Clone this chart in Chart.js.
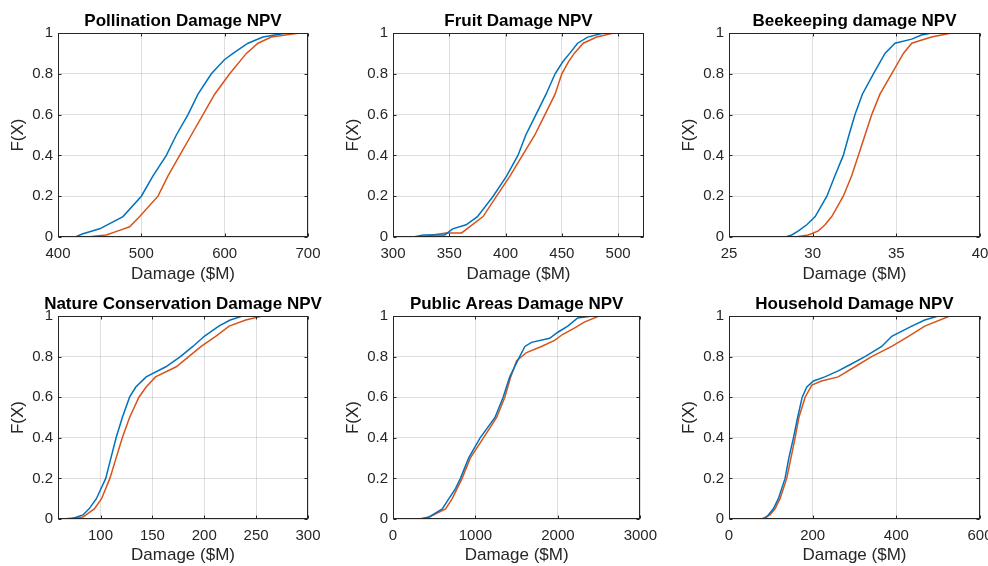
<!DOCTYPE html>
<html>
<head>
<meta charset="utf-8">
<script src="https://cdn.jsdelivr.net/npm/chart.js@4.4.1/dist/chart.umd.min.js"></script>
<style>
  body { margin: 0; width: 988px; height: 566px; overflow: hidden; background: #fff; position: relative; }
  canvas { position: absolute; }
</style>
</head>
<body>
<canvas id="c1"></canvas>
<canvas id="c2"></canvas>
<canvas id="c3"></canvas>
<canvas id="c4"></canvas>
<canvas id="c5"></canvas>
<canvas id="c6"></canvas>
<script>
// Chart data ----- START
const titles = [
    'Pollination Damage NPV', 'Fruit Damage NPV', 'Beekeeping damage NPV',
    'Nature Conservation Damage NPV', 'Public Areas Damage NPV', 'Household Damage NPV'
];
const yTicks = [0, 0.2, 0.4, 0.6, 0.8, 1];

// x axis range + tick labels of every subplot
const pollinationTicks = [400, 500, 600, 700];
const fruitTicks = [300, 350, 400, 450, 500];
const beekeepingTicks = [25, 30, 35, 40];
const natureTicks = [100, 150, 200, 250, 300];
const publicTicks = [0, 1000, 2000, 3000];
const householdTicks = [0, 200, 400, 600];
const xRanges = [[400, 700], [300, 523], [25, 40], [59, 300], [0, 3000], [0, 600]];

// [damage, F(X)] (blue / orange)
const pollinationBlue = [[406,0],[422,0.003],[430,0.016],[450,0.04],[478,0.1],[500,0.2],[514,0.3],[530,0.4],[542,0.5],[556,0.6],[568,0.7],[584,0.8],[600,0.87],[610,0.9],[628,0.95],[646,0.98],[674,1]];
const pollinationOrange = [[416,0],[440,0.003],[458,0.01],[472,0.03],[486,0.05],[498,0.1],[520,0.2],[532,0.3],[546,0.4],[560,0.5],[574,0.6],[588,0.7],[606,0.8],[626,0.9],[640,0.95],[656,0.98],[690,1],[700,1]];

const fruitBlue = [[318,0],[327,0.01],[346,0.01],[353,0.04],[365,0.06],[375,0.1],[389,0.2],[401,0.3],[411,0.4],[418,0.5],[427,0.6],[436,0.7],[444,0.8],[451,0.86],[457,0.9],[464,0.95],[473,0.98],[487,1]];
const fruitOrange = [[325,0],[335,0.01],[347,0.02],[361,0.02],[368,0.05],[380,0.1],[392,0.2],[404,0.3],[415,0.4],[426,0.5],[435,0.6],[444,0.7],[450,0.8],[456,0.86],[461,0.9],[469,0.95],[481,0.98],[496,1],[523,1]];

const beekeepingBlue = [[26.35,0],[28.45,0.003],[28.75,0.01],[29.15,0.03],[29.65,0.06],[30.15,0.1],[30.85,0.2],[31.33,0.3],[31.83,0.4],[32.17,0.5],[32.53,0.6],[32.97,0.7],[33.63,0.8],[34.32,0.9],[34.92,0.95],[35.92,0.97],[36.5,0.99],[37.1,1]];
const beekeepingOrange = [[28.94,0],[29.74,0.01],[30.34,0.03],[30.74,0.06],[31.14,0.1],[31.83,0.2],[32.33,0.3],[32.73,0.4],[33.13,0.5],[33.53,0.6],[34.02,0.7],[34.72,0.8],[35.42,0.9],[35.92,0.95],[37.1,0.98],[38.3,1]];

const natureBlue = [[59,0],[73,0.003],[83,0.02],[89,0.05],[96,0.1],[105,0.2],[110,0.3],[115,0.4],[121,0.5],[128,0.6],[134,0.65],[144,0.7],[163,0.75],[177,0.8],[189,0.85],[200,0.9],[214,0.95],[225,0.98],[237,1]];
const natureOrange = [[64,0],[83,0.01],[86,0.02],[94,0.05],[101,0.1],[109,0.2],[115,0.3],[121,0.4],[128,0.5],[137,0.6],[144,0.65],[153,0.7],[173,0.75],[185,0.8],[197,0.85],[211,0.9],[224,0.95],[240,0.98],[256,1],[281,1]];

const publicBlue = [[319,0],[439,0.01],[519,0.03],[598,0.05],[678,0.1],[758,0.15],[818,0.2],[917,0.3],[1057,0.4],[1237,0.5],[1336,0.6],[1416,0.7],[1536,0.8],[1600,0.85],[1680,0.87],[1900,0.89],[2000,0.92],[2120,0.95],[2240,0.99],[2420,1]];
const publicOrange = [[359,0],[439,0.01],[638,0.05],[718,0.1],[838,0.2],[937,0.3],[1097,0.4],[1257,0.5],[1356,0.6],[1428,0.7],[1500,0.78],[1620,0.82],[1800,0.85],[1960,0.88],[2060,0.91],[2200,0.94],[2320,0.97],[2500,1]];

const householdBlue = [[70,0],[86,0],[94,0.02],[106,0.05],[118,0.1],[134,0.2],[143,0.3],[154,0.4],[164,0.5],[175,0.6],[186,0.65],[202,0.68],[229,0.7],[261,0.73],[289,0.76],[325,0.8],[365,0.85],[389,0.9],[437,0.95],[468,0.98],[500,1]];
const householdOrange = [[78,0],[98,0.02],[110,0.05],[122,0.1],[138,0.2],[148,0.3],[158,0.4],[167,0.5],[182,0.6],[198,0.66],[221,0.68],[261,0.7],[301,0.75],[341,0.8],[389,0.85],[429,0.9],[468,0.95],[528,1]];
// Chart data ----- END

const xTicksList = [pollinationTicks, fruitTicks, beekeepingTicks, natureTicks, publicTicks, householdTicks];
const blueList = [pollinationBlue, fruitBlue, beekeepingBlue, natureBlue, publicBlue, householdBlue];
const orangeList = [pollinationOrange, fruitOrange, beekeepingOrange, natureOrange, publicOrange, householdOrange];

const FONT = '"Liberation Sans", Arial, Helvetica, sans-serif';
const TEXT = '#262626';

// MATLAB style box with inward ticks + title centred over the plot area
const matlabAxes = {
    id: 'matlabAxes',
    afterDraw(chart, args, opts) {
        const ctx = chart.ctx;
        const a = chart.chartArea;
        const x = chart.scales.x, y = chart.scales.y;
        const L = Math.round(a.left) + 0.5, R = Math.round(a.right) - 0.5;
        const T = Math.round(a.top) + 0.5, B = Math.round(a.bottom) - 0.5;
        ctx.save();
        ctx.strokeStyle = TEXT;
        ctx.lineWidth = 1;
        ctx.strokeRect(L, T, R - L, B - T);
        ctx.beginPath();
        x.ticks.forEach(t => {
            const px = Math.round(x.getPixelForValue(t.value)) + 0.5;
            ctx.moveTo(px, B); ctx.lineTo(px, B - 3);
            ctx.moveTo(px, T); ctx.lineTo(px, T + 3);
        });
        y.ticks.forEach(t => {
            const py = Math.round(y.getPixelForValue(t.value)) + 0.5;
            ctx.moveTo(L, py); ctx.lineTo(L + 3, py);
            ctx.moveTo(R, py); ctx.lineTo(R - 3, py);
        });
        ctx.stroke();
        // title
        ctx.fillStyle = '#000';
        ctx.font = 'bold 17px ' + FONT;
        ctx.textAlign = 'center';
        ctx.textBaseline = 'alphabetic';
        ctx.fillText(opts.text, (a.left + a.right) / 2, a.top - 7);
        ctx.restore();
    }
};

function makeChart(i) {
    const canvas = document.getElementById('c' + (i + 1));
    const col = i % 3, row = Math.floor(i / 3);
    const lefts = [0, 335, 671];
    canvas.width = 330;
    canvas.height = row === 0 ? 285 : 281;
    canvas.style.left = lefts[col] + 'px';
    canvas.style.top = (row === 0 ? 0 : 285) + 'px';
    const xTicks = xTicksList[i];

    return new Chart(canvas.getContext('2d'), {
        type: 'line',
        data: {
            datasets: [{
                data: blueList[i].map(p => ({ x: p[0], y: p[1] })),
                borderColor: '#0072BD',
                borderWidth: 1.5,
                pointRadius: 0,
                fill: false
            }, {
                data: orangeList[i].map(p => ({ x: p[0], y: p[1] })),
                borderColor: '#D95319',
                borderWidth: 1.5,
                pointRadius: 0,
                fill: false
            }]
        },
        options: {
            responsive: false,
            animation: false,
            devicePixelRatio: 1,
            layout: { padding: { top: row === 0 ? 33 : 31, right: col === 0 ? 22 : 21, left: 0, bottom: 0 } },
            plugins: {
                legend: { display: false },
                tooltip: { enabled: false },
                matlabAxes: { text: titles[i] }
            },
            scales: {
                x: {
                    type: 'linear',
                    min: xRanges[i][0],
                    max: xRanges[i][1],
                    afterBuildTicks: s => { s.ticks = xTicks.map(v => ({ value: v })); },
                    afterFit: s => { s.height = row === 0 ? 48 : 47; },
                    grid: { color: 'rgba(38,38,38,0.15)', drawTicks: false },
                    border: { display: false },
                    ticks: { color: TEXT, font: { family: FONT, size: 15 }, padding: 8, maxRotation: 0, autoSkip: false, callback: v => String(v) },
                    title: { display: true, text: 'Damage ($M)', color: TEXT, font: { family: FONT, size: 17 }, padding: { top: 0, bottom: 0 } }
                },
                y: {
                    min: 0,
                    max: 1,
                    afterBuildTicks: s => { s.ticks = yTicks.map(v => ({ value: v })); },
                    afterFit: s => { s.width = 58; },
                    grid: { color: 'rgba(38,38,38,0.15)', drawTicks: false },
                    border: { display: false },
                    ticks: { color: TEXT, font: { family: FONT, size: 15 }, padding: 5, callback: v => String(v) },
                    title: { display: true, text: 'F(X)', color: TEXT, font: { family: FONT, size: 17 }, padding: { top: 8, bottom: 0 } }
                }
            }
        },
        plugins: [matlabAxes]
    });
}

for (let i = 0; i < 6; i++) makeChart(i);
</script>
</body>
</html>
